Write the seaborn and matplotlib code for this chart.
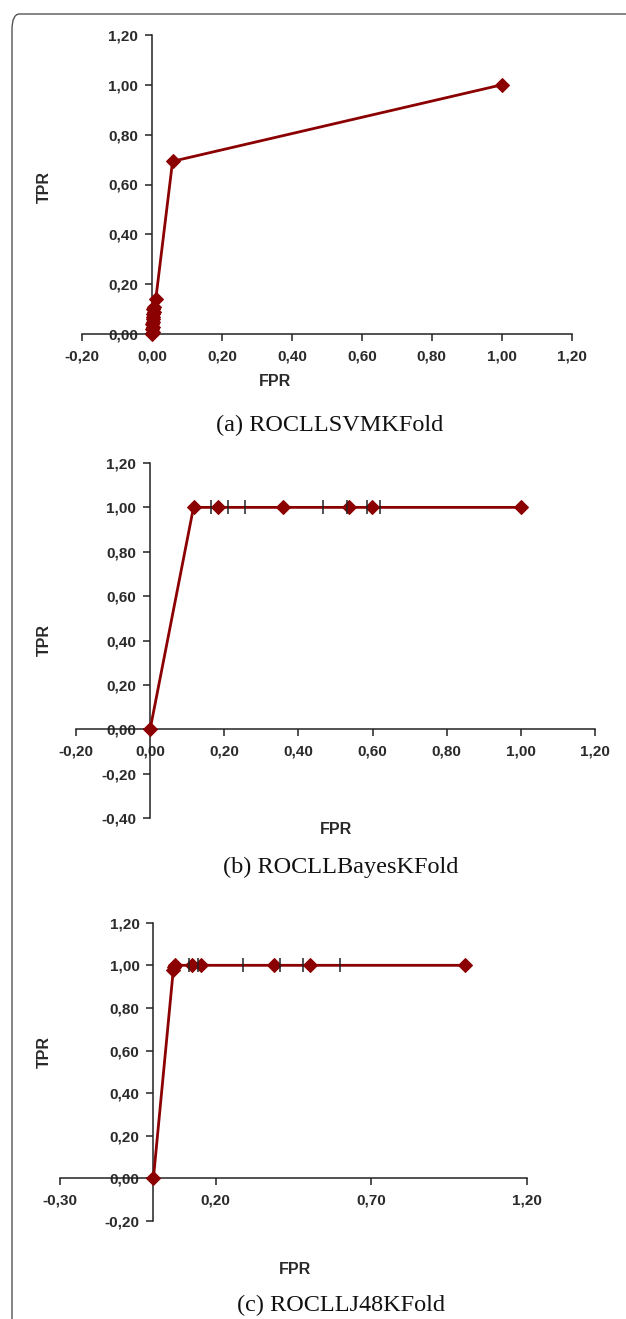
import numpy as np
import pandas as pd
import matplotlib
matplotlib.use("Agg")
import matplotlib.pyplot as plt
import seaborn as sns
from matplotlib.ticker import FuncFormatter, FixedLocator
from matplotlib.patches import FancyBboxPatch

sns.set_theme(style="white")
plt.rcParams['font.family'] = ['Liberation Sans', 'DejaVu Sans']

# ---------------- data ----------------
# (a) ROCLLSVMKFold
svm_fpr = [0.000, 0.002, 0.000, 0.003, 0.001, 0.004, 0.002, 0.004, 0.003, 0.005, 0.004, 0.006, 0.011, 0.059, 1.000]
svm_tpr = [0.000, 0.010, 0.020, 0.030, 0.040, 0.050, 0.060, 0.070, 0.080, 0.090, 0.100, 0.110, 0.140, 0.693, 1.000]

# (b) ROCLLBayesKFold
bayes_fpr = [0.000, 0.117, 0.183, 0.359, 0.537, 0.599, 1.000]
bayes_tpr = [0.000, 1.000, 1.000, 1.000, 1.000, 1.000, 1.000]
bayes_dash_fpr = [0.163, 0.211, 0.256, 0.466, 0.530, 0.584, 0.620]
bayes_dash_tpr = [1.000, 1.000, 1.000, 1.000, 1.000, 1.000, 1.000]

# (c) ROCLLJ48KFold
j48_fpr = [0.000, 0.064, 0.066, 0.068, 0.124, 0.153, 0.386, 0.502, 1.000]
j48_tpr = [0.000, 0.980, 0.990, 1.000, 1.000, 1.000, 1.000, 1.000, 1.000]
j48_dash_fpr = [0.113, 0.142, 0.287, 0.407, 0.479, 0.598]
j48_dash_tpr = [1.000, 1.000, 1.000, 1.000, 1.000, 1.000]

captions = ["(a) ROCLLSVMKFold", "(b) ROCLLBayesKFold", "(c) ROCLLJ48KFold"]
x_label = "FPR"
y_label = "TPR"

a_xticks = [-0.20, 0.00, 0.20, 0.40, 0.60, 0.80, 1.00, 1.20]
a_yticks = [0.00, 0.20, 0.40, 0.60, 0.80, 1.00, 1.20]
b_xticks = [-0.20, 0.00, 0.20, 0.40, 0.60, 0.80, 1.00, 1.20]
b_yticks = [-0.40, -0.20, 0.00, 0.20, 0.40, 0.60, 0.80, 1.00, 1.20]
c_xticks = [-0.30, 0.20, 0.70, 1.20]
c_yticks = [-0.20, 0.00, 0.20, 0.40, 0.60, 0.80, 1.00, 1.20]

# ---------------- figure ----------------
W, H = 626, 1319
DPI = 100
fig = plt.figure(figsize=(W / DPI, H / DPI), dpi=DPI)
fig.patch.set_facecolor("white")

# rounded frame
frame = FancyBboxPatch((12 / W, 1 - 1400 / H), 700 / W, (1400 - 14) / H,
                       boxstyle="round,pad=0,rounding_size=0.012",
                       transform=fig.transFigure, fill=False,
                       edgecolor="#555555", linewidth=1.0, clip_on=False)
fig.patches.append(frame)


def px_axes(left, right, top, bottom):
    return fig.add_axes([left / W, 1 - bottom / H, (right - left) / W, (bottom - top) / H])


LINE_C = "#8B0000"
AX_C = "#222222"
fmt = FuncFormatter(lambda v, p: f"{v:.2f}".replace(".", ",").replace("-0,00", "0,00"))


def style(ax, xlim, ylim, xt, yt):
    ax.set_xlim(*xlim)
    ax.set_ylim(*ylim)
    ax.set_facecolor("none")
    for s in ["top", "right"]:
        ax.spines[s].set_visible(False)
    ax.spines["left"].set_position(("data", 0))
    ax.spines["bottom"].set_position(("data", 0))
    for s in ["left", "bottom"]:
        ax.spines[s].set_color(AX_C)
        ax.spines[s].set_linewidth(1.1)
    ax.xaxis.set_major_locator(FixedLocator(xt))
    ax.yaxis.set_major_locator(FixedLocator(yt))
    ax.xaxis.set_major_formatter(fmt)
    ax.yaxis.set_major_formatter(fmt)
    ax.tick_params(axis="both", which="major", direction="out", length=5, width=1.1,
                   color=AX_C, labelsize=11, labelcolor="#2a2a2a",
                   bottom=True, left=True)
    ax.tick_params(axis="y", pad=5)
    ax.tick_params(axis="x", pad=6)
    for lab in ax.get_xticklabels() + ax.get_yticklabels():
        lab.set_fontweight("bold")
    ax.set_xlabel("")
    ax.set_ylabel("")
    ax.grid(False)


def draw(ax, fx, ty, dx=None, dy=None):
    sns.lineplot(x=fx, y=ty, ax=ax, sort=False, estimator=None, color=LINE_C,
                 linewidth=2.0, marker="D", markersize=7.5, markeredgecolor=LINE_C,
                 markerfacecolor=LINE_C, clip_on=False, zorder=3)
    if dx is not None:
        sns.scatterplot(x=dx, y=dy, ax=ax, marker="|", s=90, color="#222222",
                        linewidth=1.1, zorder=4, clip_on=False)


# panel a
ax_a = px_axes(82, 571.6, 35, 334)
draw(ax_a, svm_fpr, svm_tpr)
style(ax_a, (-0.2, 1.2), (0.0, 1.2), a_xticks, a_yticks)

# panel b
ax_b = px_axes(76, 595, 463, 818)
draw(ax_b, bayes_fpr, bayes_tpr, bayes_dash_fpr, bayes_dash_tpr)
style(ax_b, (-0.2, 1.2), (-0.4, 1.2), b_xticks, b_yticks)

# panel c
ax_c = px_axes(60, 527, 922.7, 1221)
draw(ax_c, j48_fpr, j48_tpr, j48_dash_fpr, j48_dash_tpr)
style(ax_c, (-0.3, 1.2), (-0.2, 1.2), c_xticks, c_yticks)


def ftext(x, y, s, **kw):
    fig.text(x / W, 1 - y / H, s, **kw)


lab_kw = dict(fontsize=11.5, fontweight="bold", color="#2a2a2a", ha="center", va="center")
ftext(275, 381, x_label, **lab_kw)
ftext(44, 187, y_label, rotation=90, **lab_kw)
ftext(336, 830, x_label, **lab_kw)
ftext(44, 640, y_label, rotation=90, **lab_kw)
ftext(295, 1270, x_label, **lab_kw)
ftext(44, 1052, y_label, rotation=90, **lab_kw)

cap_kw = dict(fontsize=17.5, family=["Liberation Serif", "DejaVu Serif"], color="#111111",
              ha="center", va="center")
ftext(330, 425, captions[0], **cap_kw)
ftext(341, 867, captions[1], **cap_kw)
ftext(341, 1305, captions[2], **cap_kw)

fig.savefig("out.png", dpi=DPI)
